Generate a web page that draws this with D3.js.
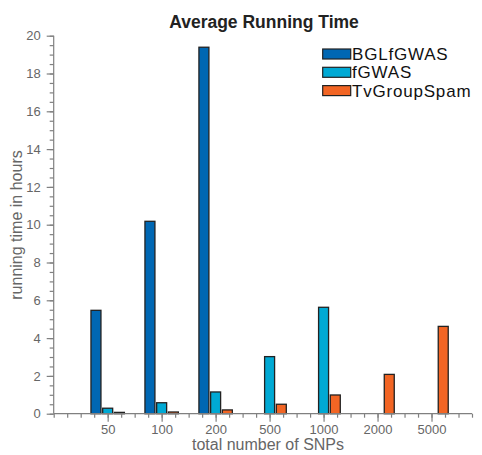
<!DOCTYPE html>
<html>
<head>
<meta charset="utf-8">
<script src="https://cdn.jsdelivr.net/npm/d3@7"></script>
<style>
  html, body { margin: 0; padding: 0; background: #fff; }
  svg { display: block; font-family: "Liberation Sans", Arial, Helvetica, sans-serif; }
</style>
</head>
<body>
<svg id="chart" width="482" height="455"></svg>
<script>
const categories = ["50", "100", "200", "500", "1000", "2000", "5000"];
const seriesNames = ["BGLfGWAS", "fGWAS", "TvGroupSpam"];
const bglfgwas = [5.47, 10.18, 19.39, 0, 0, 0, 0];
const fgwas = [0.29, 0.58, 1.15, 3.02, 5.63, 0, 0];
const tvgroupspam = [0.07, 0.09, 0.2, 0.5, 0.99, 2.08, 4.62];
const yTicks = [0, 2, 4, 6, 8, 10, 12, 14, 16, 18, 20];
const colors = ["#0067b3", "#00a9d4", "#f26524"];

const series = [bglfgwas, fgwas, tvgroupspam];
const svg = d3.select("#chart");

const x = d3.scaleLinear().domain([0, 7.75]).range([53.7, 472]);
const y = d3.scaleLinear().domain([0, 20]).range([413.7, 35.7]);

const axisColor = "#808080";
const textColor = "#666";

// Bars
const barW = 0.185, barOff = 0.217;
series.forEach((vals, si) => {
  svg.append("g").selectAll("rect").data(vals).join("rect")
    .attr("x", (d, i) => x(i + 1 + (si - 1) * barOff - barW / 2))
    .attr("width", x(barW) - x(0))
    .attr("y", d => y(d))
    .attr("height", d => y(0) - y(d))
    .attr("fill", colors[si])
    .attr("stroke", "#222")
    .attr("stroke-width", 1.3);
});

// Y axis
const yMinor = d3.range(0, 20.01, 0.5);
const gyMinor = svg.append("g").attr("transform", `translate(${x(0)},0)`)
  .call(d3.axisLeft(y).tickValues(yMinor).tickSize(4).tickFormat(""));
const gy = svg.append("g").attr("transform", `translate(${x(0)},0)`)
  .call(d3.axisLeft(y).tickValues(yTicks).tickSize(7).tickPadding(6).tickFormat(d3.format("d")));

// X axis
const xMinor = d3.range(0, 7.76, 0.25);
const gxMinor = svg.append("g").attr("transform", `translate(0,${y(0)})`)
  .call(d3.axisBottom(x).tickValues(xMinor).tickSize(4).tickFormat(""));
const gx = svg.append("g").attr("transform", `translate(0,${y(0)})`)
  .call(d3.axisBottom(x).tickValues(d3.range(1, 8)).tickSize(8).tickPadding(3)
    .tickFormat(d => categories[d - 1]));

[gy, gyMinor, gx, gxMinor].forEach(g => {
  g.selectAll("path").attr("stroke", axisColor).attr("stroke-width", 1.2);
  g.selectAll("line").attr("stroke", axisColor).attr("stroke-width", 1.2);
  g.selectAll("text").attr("fill", textColor).attr("font-size", 13)
    .attr("font-family", "'Liberation Sans', Arial, sans-serif");
});
gyMinor.select("path").remove();
gxMinor.select("path").remove();
gx.selectAll("path").attr("d", `M${x(0)},0H${x(7.75)}`);
gy.selectAll("path").attr("d", `M0,${y(0)}V${y(20)}`);

// Title
svg.append("text").attr("x", 264).attr("y", 28).attr("text-anchor", "middle")
  .attr("font-size", 17.5).attr("font-weight", "bold").attr("fill", "#222")
  .text("Average Running Time");

// Axis labels
svg.append("text").attr("x", 268).attr("y", 450).attr("text-anchor", "middle")
  .attr("font-size", 16).attr("fill", textColor).text("total number of SNPs");
svg.append("text").attr("transform", "translate(22,225) rotate(-90)")
  .attr("text-anchor", "middle").attr("font-size", 16).attr("fill", textColor)
  .text("running time in hours");

// Legend
const leg = svg.append("g");
seriesNames.forEach((name, i) => {
  const yy = 49 + i * 18.3;
  leg.append("rect").attr("x", 322.7).attr("y", yy).attr("width", 28).attr("height", 10)
    .attr("fill", colors[i]).attr("stroke", "#222").attr("stroke-width", 1.2);
  leg.append("text").attr("x", 352).attr("y", yy + 11).attr("font-size", 17)
    .attr("letter-spacing", 0.8).attr("fill", "#111").text(name);
});
</script>
</body>
</html>
